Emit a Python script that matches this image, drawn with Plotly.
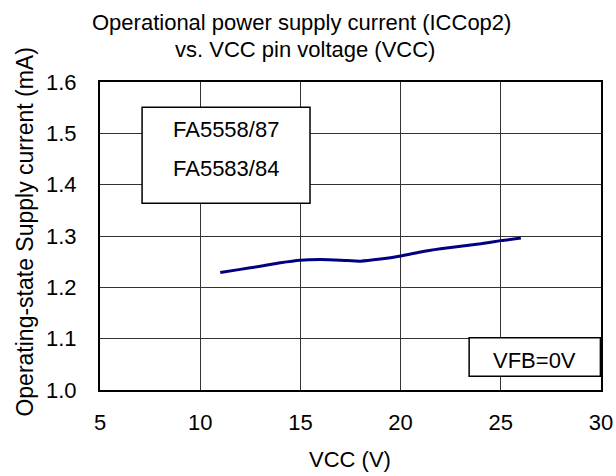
import plotly.graph_objects as go

# VCC pin voltage (V) vs operating supply current (mA)
vcc = [11, 12, 13, 14, 15, 16, 17, 18, 19, 20, 21, 22, 23, 24, 25, 26]
icc = [1.229, 1.235, 1.241, 1.248, 1.253, 1.254, 1.253, 1.251, 1.255, 1.261,
       1.269, 1.275, 1.280, 1.285, 1.291, 1.296]

x_ticks = [5, 10, 15, 20, 25, 30]
y_ticks = [1.0, 1.1, 1.2, 1.3, 1.4, 1.5, 1.6]

FONT = "Liberation Sans, Arial, sans-serif"
FS = 22

W, H = 616, 476
L, R, T, B = 99.5, 15, 82, 86
PW, PH = W - L - R, H - T - B


def page_to_paper(px, py):
    """page pixel position -> paper fraction of the plot area"""
    return (px - L) / PW, (H - py - B) / PH


fig = go.Figure()
fig.add_trace(
    go.Scatter(
        x=vcc,
        y=icc,
        mode="lines",
        line=dict(color="#000080", width=3, shape="spline", smoothing=0.6),
        showlegend=False,
        hoverinfo="skip",
    )
)

axis_style = dict(
    showgrid=True,
    gridcolor="#333333",
    gridwidth=1,
    showline=True,
    linecolor="black",
    linewidth=2,
    mirror=True,
    zeroline=False,
    ticks="",
    tickfont=dict(family=FONT, size=FS, color="black"),
)
fig.update_xaxes(range=[5, 30], tickvals=x_ticks,
                 ticktext=[str(v) for v in x_ticks],
                 ticklabelstandoff=12, **axis_style)
fig.update_yaxes(range=[1.0, 1.6], tickvals=y_ticks,
                 ticktext=["%.1f" % v for v in y_ticks],
                 ticklabelstandoff=17, **axis_style)

# label boxes
fig.add_shape(type="rect", x0=7.1, x1=15.48, y0=1.364, y1=1.551,
              line=dict(color="black", width=1.5), fillcolor="white", layer="above")
fig.add_shape(type="rect", x0=23.42, x1=29.97, y0=1.027, y1=1.102,
              line=dict(color="black", width=1.5), fillcolor="white", layer="above")

for text, x, y in [("FA5558/87", 11.29, 1.508),
                   ("FA5583/84", 11.29, 1.431),
                   ("VFB=0V", 26.7, 1.058)]:
    fig.add_annotation(text=text, x=x, y=y, xref="x", yref="y", showarrow=False,
                       font=dict(family=FONT, size=FS, color="black"))

for text, px, py, ang, size in [
    ("Operational power supply current (ICCop2)", 301, 22.5, 0, FS),
    ("vs. VCC pin voltage (VCC)", 305, 50, 0, FS),
    ("VCC (V)", 350, 459, 0, FS),
    ("Operating-state Supply current (mA)", 24, 232, -90, 23),
]:
    ax, ay = page_to_paper(px, py)
    fig.add_annotation(text=text, x=ax, y=ay, xref="paper", yref="paper",
                       showarrow=False, xanchor="center", yanchor="middle",
                       textangle=ang, font=dict(family=FONT, size=size, color="black"))

fig.update_layout(
    width=W,
    height=H,
    margin=dict(l=L, r=R, t=T, b=B, autoexpand=False),
    plot_bgcolor="white",
    paper_bgcolor="white",
    font=dict(family=FONT, size=FS, color="black"),
)

# drop the default body margin so the figure fills the window exactly
fig.write_html(
    "out.html",
    config={"displayModeBar": False},
    post_script="document.body.style.margin='0';document.body.style.overflow='hidden';",
)
